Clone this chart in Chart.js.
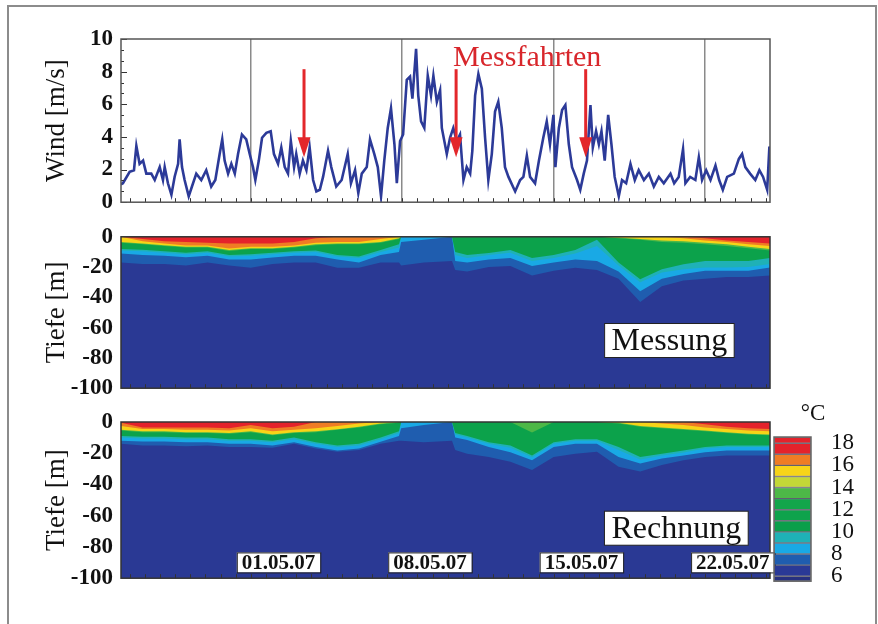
<!DOCTYPE html>
<html>
<head>
<meta charset="utf-8">
<script src="https://cdn.jsdelivr.net/npm/chart.js@4.4.1/dist/chart.umd.min.js"></script>
<style>
  body { margin: 0; background: #fff; width: 878px; height: 624px; overflow: hidden; position: relative; }
  #frame { position: absolute; left: 7px; top: 5px; width: 866px; height: 660px; border: 2px solid #8c8c8c; }
  canvas { position: absolute; }
</style>
</head>
<body>
<div id="frame"></div>
<canvas id="wind" width="800" height="224" style="left:0;top:0"></canvas>
<canvas id="mess" width="800" height="195" style="left:0;top:215px"></canvas>
<canvas id="rech" width="800" height="200" style="left:0;top:400px"></canvas>
<canvas id="cbar" width="112" height="215" style="left:766px;top:400px"></canvas>
<script>
// x axis: days since 25.04.07 00:00
const gridDays = [6, 13, 20, 27];
const dateLabels = ['01.05.07', '08.05.07', '15.05.07', '22.05.07'];
const windTicks = [0, 2, 4, 6, 8, 10];
const depthTicks = [0, -20, -40, -60, -80, -100];

// wind speed [m/s]
const windDays = [0, 0.09, 0.40, 0.60, 0.71, 0.86, 1.02, 1.17, 1.40, 1.56, 1.79, 1.94, 2.02, 2.17, 2.33, 2.48, 2.64, 2.71, 2.82, 2.94,
  3.13, 3.28, 3.48, 3.71, 3.94, 4.17, 4.36, 4.56, 4.68, 4.79, 4.95, 5.10, 5.26, 5.41, 5.59, 5.79, 5.95, 6.10, 6.21, 6.37,
  6.52, 6.72, 6.92, 7.07, 7.26, 7.41, 7.57, 7.72, 7.85, 8.00, 8.10, 8.26, 8.41, 8.57, 8.72, 8.88, 9.03, 9.19, 9.34, 9.57,
  9.72, 9.95, 10.20, 10.48, 10.63, 10.82, 10.97, 11.13, 11.36, 11.51, 11.71, 11.87, 12.02, 12.17, 12.33, 12.48, 12.64, 12.75, 12.90, 13.04,
  13.21, 13.36, 13.47, 13.64, 13.74, 13.87, 14.02, 14.18, 14.33, 14.44, 14.60, 14.75, 14.83, 15.06, 15.21, 15.36, 15.52, 15.67, 15.83, 15.98,
  16.14, 16.24, 16.37, 16.52, 16.68, 16.83, 16.98, 17.14, 17.29, 17.44, 17.60, 17.75, 17.91, 18.22, 18.45, 18.60, 18.76, 18.91, 19.14, 19.32,
  19.52, 19.68, 19.83, 19.99, 20.08, 20.24, 20.39, 20.54, 20.70, 20.85, 21.08, 21.23, 21.39, 21.54, 21.70, 21.81, 21.96, 22.09, 22.21, 22.36,
  22.52, 22.67, 22.82, 23.01, 23.16, 23.35, 23.55, 23.75, 23.93, 24.17, 24.40, 24.63, 24.86, 25.09, 25.40, 25.57, 25.78, 25.98, 26.09, 26.31,
  26.55, 26.71, 26.86, 27.05, 27.25, 27.48, 27.65, 27.82, 28.02, 28.33, 28.56, 28.71, 28.86, 29.08, 29.32, 29.51, 29.68, 29.87, 29.97, 30];
const windSpeed = [1.1, 1.16, 1.86, 1.96, 3.45, 2.35, 2.55, 1.75, 1.75, 1.36, 2.15, 1.36, 2.15, 1.16, 0.46, 1.56, 2.35, 3.85, 2.15, 1.36,
  0.36, 0.96, 1.75, 1.36, 1.96, 0.96, 1.36, 2.95, 3.85, 2.55, 1.75, 2.35, 1.75, 2.95, 4.15, 3.85, 2.95, 2.15, 1.36, 2.55,
  3.95, 4.25, 4.35, 2.95, 2.35, 3.35, 2.15, 1.75, 3.75, 2.15, 2.95, 1.75, 2.55, 1.96, 3.35, 1.36, 0.66, 0.76, 1.55, 3.15,
  2.15, 0.96, 1.36, 2.95, 1.16, 1.96, 0.56, 1.75, 2.15, 3.85, 2.95, 2.15, 0.36, 2.55, 4.55, 5.75, 3.55, 1.16, 3.75, 4.15,
  7.5, 7.7, 6.35, 9.4, 6.55, 4.95, 4.55, 7.75, 6.55, 7.75, 6.15, 6.85, 4.55, 2.95, 3.95, 4.55, 3.75, 4.15, 1.36, 2.15,
  1.75, 3.15, 6.55, 7.85, 6.95, 3.95, 1.36, 2.95, 5.55, 6.15, 4.55, 2.15, 1.55, 0.66, 1.36, 1.55, 2.85, 1.55, 1.16, 2.55,
  3.95, 4.95, 3.55, 5.35, 2.15, 4.55, 5.65, 5.95, 3.55, 2.15, 1.36, 0.76, 1.75, 2.55, 5.95, 3.35, 4.35, 3.55, 4.35, 2.55,
  5.35, 3.55, 1.55, 0.36, 1.36, 1.16, 2.35, 1.36, 1.96, 1.36, 1.75, 0.96, 1.55, 1.16, 1.75, 1.16, 1.55, 3.25, 1.16, 1.55,
  1.36, 2.75, 1.36, 1.96, 1.36, 2.25, 1.36, 0.76, 1.55, 1.75, 2.65, 2.95, 2.15, 1.75, 1.36, 1.96, 1.55, 0.76, 3.35, 3.4];

// Messfahrten (survey cruises)
const arrowDays = [8.46, 15.49, 21.48];

// isotherm depths [m], sampled at isoDays
const isoDays = [0, 1, 2, 3, 4, 5, 6, 7, 8, 9, 10, 11, 12, 12.85, 12.95, 14, 15.3, 15.45,
  16, 17, 18, 19, 20, 21, 22, 23, 24, 25, 26, 27, 28, 29, 30];

// Messung
const mess17 = [0, -1.5, -3, -3.5, -4, -4.5, -4.5, -4.5, -3.5, -1, 0, 0, 0, 0, 0, 0, 0, 0,
  0, 0, 0, 0, 0, 0, 0, 0, 0, 0, 0, -1, -2.5, -3.5, -4.5];
const mess16 = [0, -3, -4.5, -5.7, -5.7, -7.7, -6.5, -6.5, -5.7, -4, -3.5, -3.5, -1.5, 0, 0, 0, 0, 0,
  0, 0, 0, 0, 0, 0, 0, 0, 0, 0, -1, -2.5, -3.5, -5, -6];
const mess15 = [-3.5, -4.5, -5.5, -6.5, -6.5, -8.8, -7.5, -7.5, -6.5, -5, -4.5, -4.5, -3.5, -1, 0, 0, 0, 0,
  0, 0, 0, 0, 0, 0, 0, -0.5, -1.5, -2.5, -3, -4, -5, -6.5, -8];
const mess13 = [-4, -5, -6, -7, -7, -9.3, -8, -8, -7, -5.5, -5, -5, -4, -1.5, 0, 0, 0, 0,
  0, 0, 0, 0, 0, 0, 0, -1, -2, -3.5, -4, -5, -6, -7.5, -9];
const mess10 = [-8, -8.5, -9.5, -10.5, -9.5, -12, -11.5, -10.5, -9.5, -9, -12, -13, -8.8, -5, 0, 0, 0, -10,
  -12, -10.7, -8.8, -14, -12, -8.8, -2, -17, -28, -21.4, -18.2, -16, -16, -16, -14];
const mess9 = [-9, -9.5, -10.5, -11.5, -10.5, -13, -12.5, -11.5, -10.5, -10, -13, -14, -10, -7, 0, 0, 0, -12,
  -14, -12, -10.5, -16, -14, -11, -6, -19, -30, -23.5, -21.4, -20.3, -20.3, -20, -18];
const mess8 = [-11, -12, -12.5, -13.5, -12.5, -15, -15, -13.7, -12.5, -12.5, -15, -17, -12, -10, -3.5, -2, 0, -16,
  -17, -15, -14, -19.3, -17, -15, -16, -23, -36, -27.7, -24.5, -22.4, -22.4, -22.4, -20.3];
const mess7 = [-17, -18, -18, -19, -17, -19, -20.5, -18, -17, -17, -20.5, -20.5, -17, -17, -19, -17, -16, -22,
  -23, -20, -19.3, -25.6, -22.4, -20.5, -22, -27.7, -43, -32.7, -28.9, -27.7, -26.6, -26.6, -25.6];

// Rechnung
const rech17 = [-0.5, -3.5, -3.5, -3.5, -3.5, -4, -2, -4, -3, 0, 0, 0, 0, 0, 0, 0, 0, 0,
  0, 0, 0, 0, 0, 0, 0, 0, 0, 0, 0, -1.5, -3, -4, -4.5];
const rech16 = [-2.5, -4.5, -4.5, -5, -5, -5.5, -4, -6, -5, -4, -2.5, -1, 0, 0, 0, 0, 0, 0,
  0, 0, 0, 0, 0, 0, 0, 0, 0, -1, -2, -3.5, -4.5, -5.5, -6];
const rech15 = [-5, -6, -6, -6.5, -6.5, -7, -6, -8, -6.5, -6, -4.7, -3, -1, 0, 0, 0, 0, 0,
  0, 0, 0, 0, 0, 0, 0, -0.5, -2.5, -3.5, -4.5, -5.5, -6.5, -7.5, -8];
const rech13 = [-5.5, -6.5, -6.5, -7, -7, -7.5, -6.5, -8.5, -7, -6.5, -5, -3.5, -1.5, -0.5, 0, 0, 0, 0,
  0, 0, 0, -6.8, 0, 0, 0, -1, -3, -4, -5, -6, -7, -8, -8.5];
const rech10 = [-9, -9.5, -9.5, -10, -10, -11, -11, -12, -10, -13, -15, -14, -10, -6, 0, 0, 0, -7,
  -8.9, -13, -15, -21.4, -13, -11, -11, -16, -22.4, -20.3, -18.2, -16, -15, -15, -15];
const rech9 = [-10, -10.5, -10.5, -11, -11, -12, -12, -13, -11, -14, -16, -15, -11, -7, 0, 0, 0, -8,
  -10, -14, -16.5, -22.5, -14, -12, -12, -18, -24, -21.5, -19.5, -17, -16, -16, -16];
const rech8 = [-12, -12.5, -12.5, -13, -13, -14, -14, -15, -13, -16, -18.2, -17, -12.6, -9, -4, -2, 0, -10,
  -11.6, -16, -19.3, -24.5, -16, -14, -14, -22.4, -26.5, -23.4, -21.4, -19.3, -18.2, -18.2, -18.2];
const rech7 = [-14, -15, -15, -15.5, -15, -16, -16, -16.5, -14, -17, -19, -18, -14, -12, -12, -13, -12, -18,
  -20.3, -22.4, -25.5, -30.7, -22.4, -20.3, -19, -28.6, -31.7, -27.5, -24.5, -22.4, -21.4, -21.4, -21.4];

// colour bar bands [°C]
const cbLow = [5.55, 6, 7, 8, 9, 10, 11, 12, 13, 14, 15, 16, 17, 18];
const cbHigh = [6, 7, 8, 9, 10, 11, 12, 13, 14, 15, 16, 17, 18, 18.56];
const cbColors = ['#27307f', '#2a3996', '#1f5daf', '#19a9e5', '#1fb1b6', '#0b9f4a', '#0ea34c', '#12a64b',
  '#4db847', '#c3d737', '#f7d418', '#ef7c24', '#e4222b', '#e4222b'];
const cbTicks = [6, 8, 10, 12, 14, 16, 18];

const deepColor = '#2a3994';
const isoColors = ['#e4222b', '#ef7c24', '#f7d418', '#4db847', '#0ca24b', '#1fb1b6', '#19a9e5', '#1f5daf'];

const SERIF = "'Liberation Serif', 'DejaVu Serif', serif";
Chart.defaults.font.family = SERIF;
Chart.defaults.color = '#111';

// frame, minor ticks and annotations
const decor = {
  id: 'decor',
  beforeDatasetsDraw(chart, args, o) {
    if (!o.bg) return;
    const a = chart.chartArea, ctx = chart.ctx;
    ctx.save();
    ctx.fillStyle = o.bg;
    ctx.fillRect(a.left, a.top, a.width, a.height);
    ctx.restore();
  },
  afterDraw(chart, args, o) {
    const {ctx, chartArea: a, scales} = chart;
    const x = scales.x, y = scales.y;
    ctx.save();

    // minor ticks at the bottom
    if (o.minorX) {
      ctx.strokeStyle = '#333';
      ctx.lineWidth = 1;
      for (let k = -12; k < 40; k++) {
        const d = gridDays[0] + k * o.minorX;
        if (d <= x.min || d >= x.max) continue;
        const px = Math.round(x.getPixelForValue(d)) + 0.5;
        ctx.beginPath(); ctx.moveTo(px, a.bottom); ctx.lineTo(px, a.bottom - 4); ctx.stroke();
      }
    }
    // minor ticks on the left
    if (o.minorY) {
      ctx.strokeStyle = '#333';
      ctx.lineWidth = 1;
      for (let v = y.min; v <= y.max + 1e-6; v += o.minorY) {
        const py = Math.round(y.getPixelForValue(v)) + 0.5;
        const len = Math.abs(v / 2 - Math.round(v / 2)) < 1e-6 ? 6 : 3;
        ctx.beginPath(); ctx.moveTo(a.left, py); ctx.lineTo(a.left + len, py); ctx.stroke();
      }
    }

    // plot frame
    ctx.strokeStyle = o.frameColor || '#444';
    ctx.lineWidth = 1.5;
    ctx.strokeRect(a.left, a.top, a.width, a.height);

    // red arrows
    if (o.arrows) {
      ctx.fillStyle = ctx.strokeStyle = '#e3272b';
      o.arrows.days.forEach(d => {
        const px = x.getPixelForValue(d);
        const top = y.getPixelForValue(o.arrows.from);
        const tip = y.getPixelForValue(o.arrows.to);
        ctx.lineWidth = 3;
        ctx.beginPath(); ctx.moveTo(px, top); ctx.lineTo(px, tip - 16); ctx.stroke();
        ctx.beginPath();
        ctx.moveTo(px - 6.5, tip - 20); ctx.lineTo(px + 6.5, tip - 20); ctx.lineTo(px, tip);
        ctx.closePath(); ctx.fill();
      });
    }
    if (o.note) {
      ctx.fillStyle = '#d8262b';
      ctx.font = '30px ' + SERIF;
      ctx.textAlign = 'left';
      ctx.textBaseline = 'alphabetic';
      ctx.fillText(o.note.text, x.getPixelForValue(o.note.x), y.getPixelForValue(o.note.y));
    }

    // boxed panel name
    if (o.box) {
      ctx.font = '32px ' + SERIF;
      const tw = ctx.measureText(o.box.text).width;
      const cx = x.getPixelForValue(o.box.x), cy = y.getPixelForValue(o.box.y);
      ctx.fillStyle = '#fff';
      ctx.fillRect(cx - tw / 2 - 7, cy - 17, tw + 14, 34);
      ctx.strokeStyle = '#222'; ctx.lineWidth = 1;
      ctx.strokeRect(cx - tw / 2 - 7, cy - 17, tw + 14, 34);
      ctx.fillStyle = '#111';
      ctx.textAlign = 'center'; ctx.textBaseline = 'middle';
      ctx.fillText(o.box.text, cx, cy + 1);
    }

    // boxed dates
    if (o.dates) {
      ctx.font = 'bold 21px ' + SERIF;
      const cy = y.getPixelForValue(o.dates.y);
      gridDays.forEach((d, i) => {
        const tw = ctx.measureText(dateLabels[i]).width;
        const left = x.getPixelForValue(d) - 14;
        ctx.fillStyle = '#fff';
        ctx.fillRect(left, cy - 10, tw + 10, 20);
        ctx.strokeStyle = '#222'; ctx.lineWidth = 1;
        ctx.strokeRect(left + 0.5, cy - 9.5, tw + 10, 20);
        ctx.fillStyle = '#111';
        ctx.textAlign = 'left'; ctx.textBaseline = 'middle';
        ctx.fillText(dateLabels[i], left + 5, cy + 1);
      });
    }

    // unit above the colour bar
    if (o.unit) {
      ctx.fillStyle = '#111';
      ctx.font = '23px ' + SERIF;
      ctx.textAlign = 'center'; ctx.textBaseline = 'middle';
      ctx.fillText(o.unit, a.right + 2, a.top - 23);
    }
    ctx.restore();
  }
};

function xAxis(gridColor, z) {
  return {
    type: 'linear', min: 0, max: 30, z: z,
    afterBuildTicks: s => { s.ticks = gridDays.map(v => ({value: v})); },
    afterFit: s => { s.height = 0; },
    ticks: {display: false},
    grid: {color: gridColor, lineWidth: 1.5, drawTicks: false},
    border: {display: false}
  };
}

function yAxis(min, max, ticks, title) {
  return {
    min: min, max: max,
    afterBuildTicks: s => { s.ticks = ticks.map(v => ({value: v})); },
    afterFit: s => { s.width = 121; },
    ticks: {font: {size: 23, weight: 'bold'}, padding: 8, color: '#111', autoSkip: false},
    grid: {display: false, drawTicks: false},
    border: {display: false},
    title: {display: true, text: title, font: {size: 27}, color: '#111', padding: {top: 41, bottom: 0}}
  };
}

const common = {
  responsive: false,
  animation: false,
  events: [],
  plugins: {legend: {display: false}, tooltip: {enabled: false}}
};

// wind panel
new Chart(document.getElementById('wind'), {
  type: 'line',
  data: {
    datasets: [{
      data: windDays.map((d, i) => ({x: d, y: windSpeed[i]})),
      borderColor: '#2c3a98',
      borderWidth: 2.6,
      pointRadius: 0,
      tension: 0
    }]
  },
  options: {
    ...common,
    layout: {padding: {top: 39, right: 30, bottom: 18, left: 0}},
    scales: {x: xAxis('#8a8a8a', 0), y: yAxis(0, 10, windTicks, 'Wind [m/s]')},
    plugins: {
      ...common.plugins,
      decor: {
        frameColor: '#555', minorX: 0.7, minorY: 2 / 3,
        arrows: {days: arrowDays, from: 8.15, to: 2.75},
        note: {text: 'Messfahrten', x: 15.35, y: 8.35}
      }
    }
  },
  plugins: [decor]
});

function isoDatasets(lines) {
  return lines.map((arr, i) => ({
    data: isoDays.map((d, j) => ({x: d, y: arr[j]})),
    fill: 'end',
    backgroundColor: isoColors[i],
    borderColor: 'rgba(0,0,0,0)',
    borderWidth: 0,
    pointRadius: 0,
    tension: 0
  }));
}

// Messung panel
new Chart(document.getElementById('mess'), {
  type: 'line',
  data: {datasets: isoDatasets([mess17, mess16, mess15, mess13, mess10, mess9, mess8, mess7])},
  options: {
    ...common,
    layout: {padding: {top: 19, right: 30, bottom: 17, left: 0}},
    scales: {x: xAxis('#1b2262', 1), y: yAxis(-100, 0, depthTicks, 'Tiefe [m]')},
    plugins: {
      ...common.plugins,
      decor: {bg: deepColor, frameColor: '#333', minorX: 0.7, box: {text: 'Messung', x: 25.35, y: -68.5}}
    }
  },
  plugins: [decor]
});

// Rechnung panel
new Chart(document.getElementById('rech'), {
  type: 'line',
  data: {datasets: isoDatasets([rech17, rech16, rech15, rech13, rech10, rech9, rech8, rech7])},
  options: {
    ...common,
    layout: {padding: {top: 22, right: 30, bottom: 17, left: 0}},
    scales: {x: xAxis('#1b2262', 1), y: yAxis(-100, 0, depthTicks, 'Tiefe [m]')},
    plugins: {
      ...common.plugins,
      decor: {
        bg: deepColor, frameColor: '#333', minorX: 0.7,
        box: {text: 'Rechnung', x: 25.67, y: -68},
        dates: {y: -89.9}
      }
    }
  },
  plugins: [decor]
});

// colour bar
new Chart(document.getElementById('cbar'), {
  type: 'bar',
  data: {
    labels: ['T'],
    datasets: cbLow.map((lo, i) => ({
      data: [[lo, cbHigh[i]]],
      backgroundColor: cbColors[i],
      borderColor: 'rgba(25,25,45,0.55)',
      borderWidth: 1,
      borderSkipped: false,
      grouped: false,
      barPercentage: 1,
      categoryPercentage: 1
    }))
  },
  options: {
    ...common,
    layout: {padding: {top: 37, right: 0, bottom: 16, left: 8}},
    scales: {
      x: {display: false},
      y: {
        position: 'right', min: 5.55, max: 18.56,
        afterBuildTicks: s => { s.ticks = cbTicks.map(v => ({value: v})); },
        afterFit: s => { s.width = 67; },
        ticks: {font: {size: 23}, padding: 20, color: '#111', autoSkip: false},
        grid: {display: false, drawTicks: false},
        border: {display: false}
      }
    },
    plugins: {...common.plugins, decor: {frameColor: '#666', unit: '°C'}}
  },
  plugins: [decor]
});
</script>
</body>
</html>
